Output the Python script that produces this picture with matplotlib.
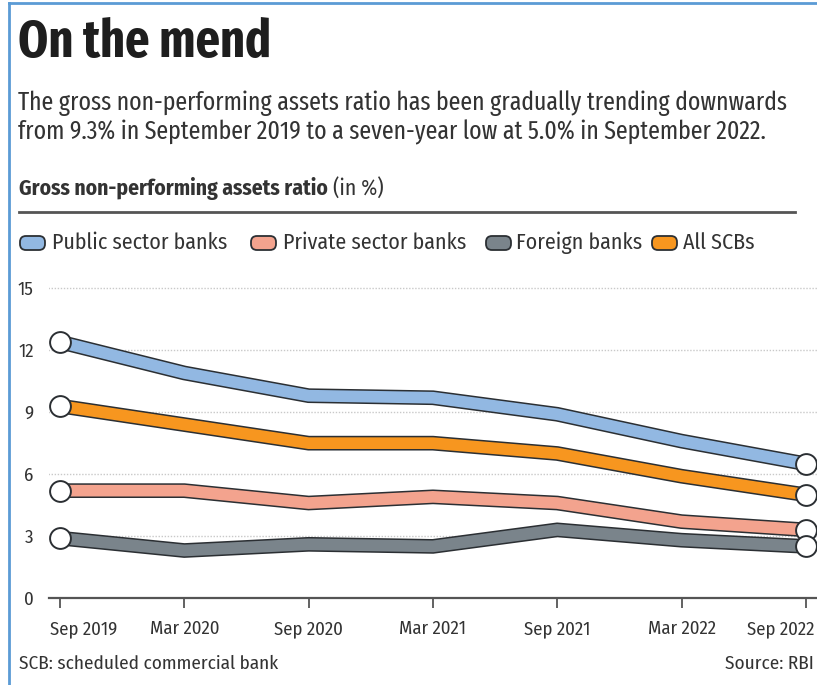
import matplotlib
matplotlib.use('Agg')
import matplotlib.pyplot as plt
import matplotlib.patheffects as pe
from matplotlib.patches import FancyBboxPatch
from matplotlib.transforms import ScaledTranslation

plt.rcParams['font.family'] = ['Fira Sans Condensed', 'Open Sans', 'DejaVu Sans']
narrow = ['Fira Sans Extra Condensed', 'Fira Sans Condensed', 'Open Sans', 'DejaVu Sans']

# data (GNPA ratio, %)
periods = ['Sep 2019', 'Mar 2020', 'Sep 2020', 'Mar 2021', 'Sep 2021', 'Mar 2022', 'Sep 2022']
public = [12.4, 10.9, 9.8, 9.7, 8.9, 7.6, 6.5]
private = [5.2, 5.2, 4.6, 4.9, 4.6, 3.7, 3.3]
foreign = [2.9, 2.3, 2.6, 2.5, 3.3, 2.8, 2.5]
all_scbs = [9.3, 8.4, 7.5, 7.5, 7.0, 5.9, 5.0]
yticks = [0, 3, 6, 9, 12, 15]

series = [
    ('Public sector banks', public, '#92b8e2'),
    ('Private sector banks', private, '#f3a38e'),
    ('Foreign banks', foreign, '#7a848b'),
    ('All SCBs', all_scbs, '#f7961f'),
]
outline = '#2b2f33'

W, H = 817, 685
fig = plt.figure(figsize=(W / 100, H / 100), dpi=100)

# main chart
ax = fig.add_axes([49 / W, 87 / H, (W - 49) / W, 320 / H])
x = list(range(len(periods)))
order = [2, 1, 3, 0]
for i in order:
    name, vals, col = series[i]
    ax.plot(x, vals, color=col, lw=8.4, solid_joinstyle='miter', solid_capstyle='butt', zorder=3 + i,
            path_effects=[pe.Stroke(linewidth=10.6, foreground=outline), pe.Normal()], clip_on=False)
for i in order:
    name, vals, col = series[i]
    ax.plot([x[0], x[-1]], [vals[0], vals[-1]], 'o', ms=15, mfc='white', mec=outline, mew=1.4,
            zorder=10 + i, clip_on=False)

ax.set_xlim(-0.0885, 6.09)
ax.set_ylim(0, 15.5)
ax.set_yticks(yticks)
ax.set_yticklabels([str(v) for v in yticks])
ax.set_xticks(x)
ax.set_xticklabels(periods)
for v in yticks[1:]:
    ax.axhline(v, color='#c9c9c9', lw=1, ls=(0, (1, 1.2)), zorder=1, xmin=-0.005)
for s in ['top', 'right', 'left']:
    ax.spines[s].set_visible(False)
ax.spines['bottom'].set_color('#555555')
ax.spines['bottom'].set_linewidth(1.6)
ax.tick_params(axis='y', length=0, pad=11, labelsize=13.5, labelcolor='#333333')
ax.tick_params(axis='x', direction='out', length=7, width=1.3, color='#555555', pad=9,
               labelsize=13.5, labelcolor='#333333')
labels = ax.get_xticklabels()
labels[0].set_ha('left')
labels[0].set_transform(labels[0].get_transform() + ScaledTranslation(-0.10, 0, fig.dpi_scale_trans))
labels[-1].set_ha('right')
labels[-1].set_transform(labels[-1].get_transform() + ScaledTranslation(0.09, 0, fig.dpi_scale_trans))
ax.set_facecolor('none')

# overlay in pixel coordinates for header, legend and footer
ov = fig.add_axes([0, 0, 1, 1], zorder=-1)
ov.set_xlim(0, W)
ov.set_ylim(H, 0)
ov.axis('off')

ov.plot([9, 9], [3, H], color='#5b9bd5', lw=2)
ov.plot([9, W], [3, 3], color='#5b9bd5', lw=2)

ov.text(18, 43, 'On the mend', fontsize=37.5, fontweight='bold', color='#1e1e1e', va='center', family=narrow)
ov.text(18, 103, 'The gross non-performing assets ratio has been gradually trending downwards',
        fontsize=18.7, color='#333333', va='center', family=narrow)
ov.text(18, 132, 'from 9.3% in September 2019 to a seven-year low at 5.0% in September 2022.',
        fontsize=18.7, color='#333333', va='center', family=narrow)
t = ov.text(19, 188, 'Gross non-performing assets ratio', fontsize=15.5, fontweight='bold',
            color='#333333', va='center')
ov.annotate(' (in %)', xycoords=t, xy=(1, 0.5), va='center', fontsize=15.5, color='#333333')
ov.plot([19, 795], [212, 212], color='#555555', lw=2)

legend_x = [(20, 52), (251, 283), (486, 516), (652, 683)]
for (name, vals, col), (ix, tx) in zip(series, legend_x):
    ov.add_patch(FancyBboxPatch((ix + 6, 242), 13, 2, boxstyle='round,pad=6', fc=col, ec=outline, lw=1.3))
    ov.text(tx, 243, name, fontsize=15.8, color='#333333', va='center')

ov.text(19, 664, 'SCB: scheduled commercial bank', fontsize=13.8, color='#333333', va='center')
ov.text(814, 664, 'Source: RBI', fontsize=13.8, color='#333333', va='center', ha='right')

fig.savefig('out.png', dpi=100)
